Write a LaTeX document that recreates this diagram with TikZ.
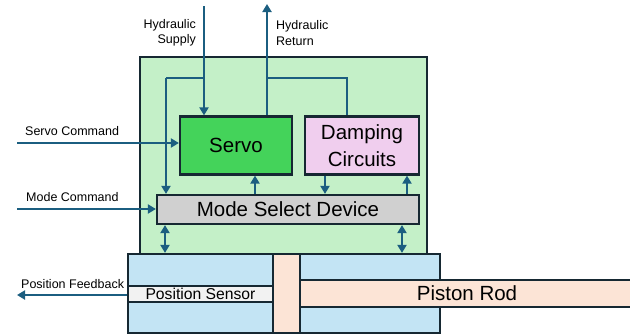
\documentclass[tikz,border=0pt]{standalone}
\usepackage{fontspec}
\setmainfont{Liberation Sans}
\usetikzlibrary{arrows.meta}
\definecolor{lineC}{RGB}{27,94,128}
\definecolor{bordC}{RGB}{22,40,50}
\definecolor{greenBg}{RGB}{196,240,200}
\definecolor{servoG}{RGB}{68,211,90}
\definecolor{dampP}{RGB}{240,206,238}
\definecolor{modeG}{RGB}{208,208,208}
\definecolor{cylB}{RGB}{195,228,244}
\definecolor{peachC}{RGB}{252,228,214}
\definecolor{sensC}{RGB}{242,242,242}
\tikzset{
  box/.style={draw=bordC, line width=2.2pt, inner sep=0pt, font=\fontsize{20.5}{27}\selectfont, align=center},
  conn/.style={draw=lineC, line width=2.8pt},
  loopline/.style={draw=lineC, line width=2.2pt},
  tip/.style={-{Triangle[length=8pt,width=9pt]}},
  dtip/.style={{Triangle[length=8pt,width=9pt]}-{Triangle[length=8pt,width=9pt]}},
  lbl/.style={inner sep=0pt, font=\fontsize{12.5}{15.5}\selectfont}
}
\begin{document}
\begin{tikzpicture}[x=1pt,y=-1pt]
\useasboundingbox (0,0) rectangle (630,335);
% green housing
\node[box, fill=greenBg, minimum width=287pt, minimum height=197pt] (house) at (283.5,155.5) {};
% internal boxes
\node[box, fill=servoG, minimum width=112pt, minimum height=58pt] (servo) at (236,145.5) {Servo};
\node[box, fill=dampP, minimum width=114pt, minimum height=58pt] (damp) at (362,145.5) {Damping\\Circuits};
\node[box, fill=modeG, minimum width=262pt, minimum height=29pt] (mode) at (288,209.5) {Mode Select Device};
% cylinder
\node[box, fill=cylB, minimum width=145pt, minimum height=79pt] (cylL) at (200.5,293.5) {};
\node[box, fill=peachC, minimum width=27pt, minimum height=79pt] (strip) at (286.5,293.5) {};
\node[box, fill=cylB, minimum width=140pt, minimum height=79pt] (cylR) at (370,293.5) {};
\node[box, fill=sensC, minimum width=145pt, minimum height=16pt, font=\fontsize{15.7}{18}\selectfont] (sens) at (200.5,294) {Position Sensor};
\node[box, fill=peachC, minimum width=334pt, minimum height=27pt] (rod) at (467,293.5) {Piston Rod};
% coordinates
\coordinate (sup) at (204,6);
\coordinate (ret) at (267,4);
\coordinate (j1) at (204,78);
\coordinate (j2) at (166,78);
\coordinate (j3) at (267,78);
\coordinate (j4) at (347,78);
\coordinate (sc) at (17,143);
\coordinate (mc) at (17,209);
\coordinate (pf) at (17,295);
\coordinate (a1) at (255,0);
\coordinate (a2) at (325,0);
\coordinate (a3) at (407,0);
\coordinate (a4) at (165,0);
\coordinate (a5) at (402,0);
% internal loop lines
\draw[loopline] (j1) -- (j2);
\draw[loopline, tip] (j2) -- (j2 |- mode.north);
\draw[loopline] (j3) -- (j4) -- (j4 |- damp.north);
% hydraulic
\draw[conn, tip] (sup) -- (sup |- servo.north);
\draw[conn, tip] (j3 |- servo.north) -- (ret);
% commands
\draw[conn, tip] (sc) -- (sc -| servo.west);
\draw[conn, tip] (mc) -- (mc -| mode.west);
% internal arrows
\draw[conn, tip] (a1 |- mode.north) -- (a1 |- servo.south);
\draw[conn, tip] (a2 |- damp.south) -- (a2 |- mode.north);
\draw[conn, tip] (a3 |- mode.north) -- (a3 |- damp.south);
\draw[conn, dtip] (a4 |- mode.south) -- (a4 |- cylL.north);
\draw[conn, dtip] (a5 |- mode.south) -- (a5 |- cylR.north);
% feedback
\draw[conn, tip] (sens.west |- pf) -- (pf);
% labels
\node[lbl, anchor=east, align=right] (lsup) at (196,33) {Hydraulic\\Supply};
\node[lbl, anchor=west, align=left] (lret) at (276,33) {Hydraulic\\Return};
\node[lbl, anchor=west] (lsc) at (25,131) {Servo Command};
\node[lbl, anchor=west] (lmc) at (26,197) {Mode Command};
\node[lbl, anchor=west] (lpf) at (21,284) {Position Feedback};
\end{tikzpicture}
\end{document}
